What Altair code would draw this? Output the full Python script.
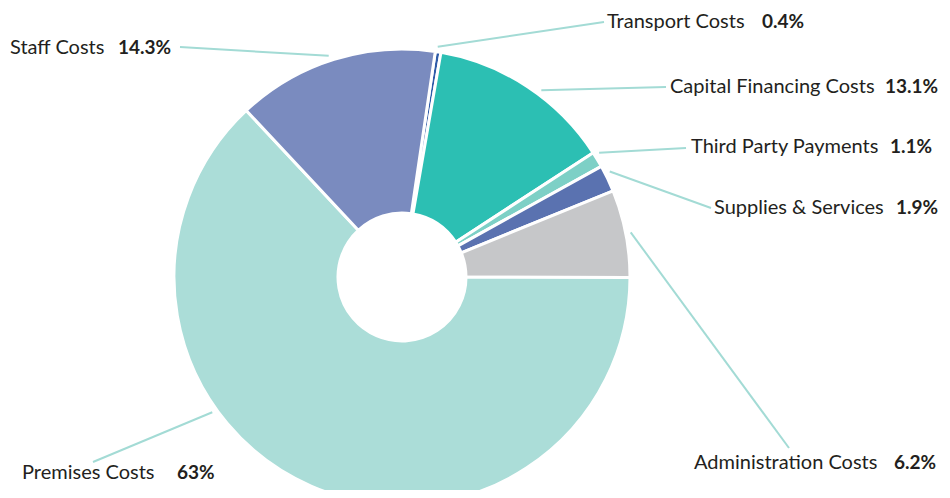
import math
import altair as alt
import pandas as pd

# ---- data ----
categories = ["Transport Costs", "Capital Financing Costs", "Third Party Payments",
              "Supplies & Services", "Administration Costs", "Premises Costs", "Staff Costs"]
values = [0.4, 13.1, 1.1, 1.9, 6.2, 63.0, 14.3]
pct_labels = ["0.4%", "13.1%", "1.1%", "1.9%", "6.2%", "63%", "14.3%"]

# ---- style / layout ----
colors = ["#2E5BA8", "#2CBFB3", "#7DD0C6", "#5A72B0", "#C6C7C9", "#ABDDD8", "#7A8BBF"]
W, H = 934, 482
OFF = 8  # page margin
cx, cy = 402 - OFF, 277 - OFF
r_out, r_in = 228, 64
start_deg = 8.4
leader_r = 233
leader_nudge = [-0.3, 3.3, -1.2, -1.3, 0.0, 31.0, -1.0]
# label anchors (window px): name x, pct x, y, leader end x, leader end y
name_x = [607, 670, 691, 714, 694, 22, 10]
pct_x = [762, 885, 890, 896, 894, 177, 118]
label_y = [22, 87, 147, 208, 463, 473, 48]
end_x = [604, 666, 686, 711, 789, 93, 180]
end_y = [22, 87, 148, 208, 448, 462, 47]

# ---- derived tables ----
total = sum(values)
cum = 0.0
rows = []
for i, (c, v) in enumerate(zip(categories, values)):
    mid = start_deg + (cum + v / 2) / total * 360 + leader_nudge[i]
    cum += v
    a = math.radians(mid)
    sx = cx + leader_r * math.sin(a)
    sy = cy - leader_r * math.cos(a)
    rows.append(dict(cat=c, value=v, order=i, pct=pct_labels[i],
                     nx=name_x[i] - OFF, px=pct_x[i] - OFF, ly=label_y[i] - OFF,
                     sx=sx, sy=sy, ex=end_x[i] - OFF, ey=end_y[i] - OFF))
df = pd.DataFrame(rows)

a0 = math.radians(start_deg)
color_scale = alt.Scale(domain=categories, range=colors)
xs = alt.Scale(domain=[0, W])
ys = alt.Scale(domain=[0, H], reverse=True)

base = alt.Chart(df)

arcs = base.mark_arc(innerRadius=r_in, outerRadius=r_out, stroke="white", strokeWidth=3).encode(
    theta=alt.Theta("value:Q", stack=True, scale=alt.Scale(range=[a0, a0 + 2 * math.pi])),
    order=alt.Order("order:Q"),
    color=alt.Color("cat:N", scale=color_scale, legend=None),
    x=alt.value(cx),
    y=alt.value(cy),
)

rules = base.mark_rule(color="#A3DBD5", strokeWidth=2).encode(
    x=alt.X("sx:Q", scale=xs, axis=None),
    y=alt.Y("sy:Q", scale=ys, axis=None),
    x2="ex:Q",
    y2="ey:Q",
)

names = base.mark_text(align="left", baseline="middle", font="Lato", fontSize=20,
                       color="#231F20").encode(
    x=alt.X("nx:Q", scale=xs, axis=None),
    y=alt.Y("ly:Q", scale=ys, axis=None),
    text="cat:N",
)

pcts = base.mark_text(align="left", baseline="middle", font="Lato", fontSize=19,
                      fontWeight="bold", color="#231F20").encode(
    x=alt.X("px:Q", scale=xs, axis=None),
    y=alt.Y("ly:Q", scale=ys, axis=None),
    text="pct:N",
)

chart = alt.layer(arcs, rules, names, pcts).properties(
    width=W, height=H, autosize=alt.AutoSizeParams(type="none"), padding=0
).configure_view(stroke=None)

chart.save("out.html", embed_options={"renderer": "svg", "actions": False})
